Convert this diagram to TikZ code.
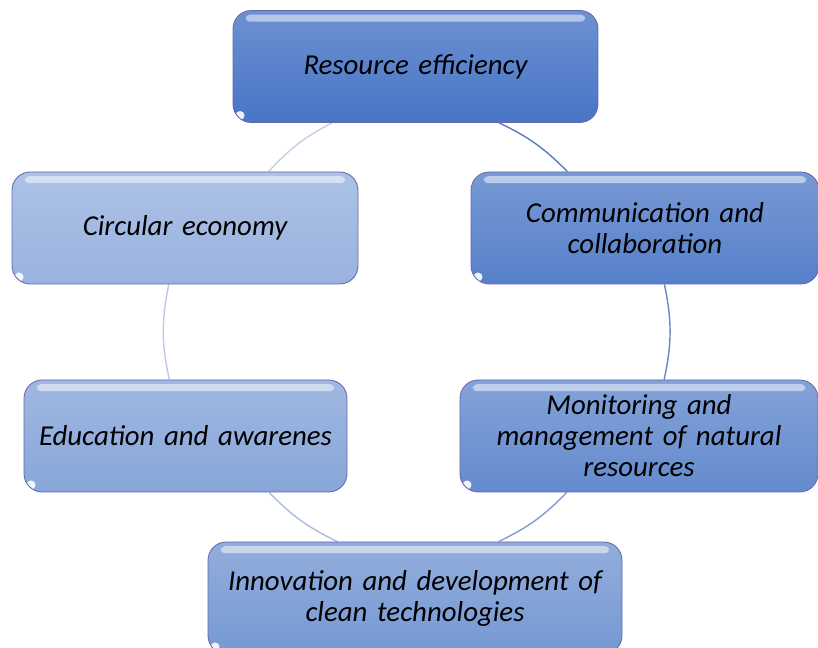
\documentclass[tikz,border=0pt]{standalone}
\usepackage{fontspec}
\setmainfont{Carlito}
\usepackage{tikz}
\usetikzlibrary{backgrounds}
\definecolor{blueA}{RGB}{72,117,198}
\definecolor{blueB}{RGB}{86,128,202}
\definecolor{blueC}{RGB}{100,139,206}
\definecolor{blueD}{RGB}{118,153,211}
\definecolor{blueE}{RGB}{136,166,217}
\definecolor{blueF}{RGB}{153,178,223}
\tikzstyle{block} = [rectangle, rounded corners=13pt, draw=blue!45!black!60, line width=0.6pt,
  minimum height=112*0.025cm, align=center, font=\fontsize{20.5}{22}\selectfont\itshape,
  path picture={
    \fill[white, opacity=0.5, rounded corners=3pt]
      ([shift={(9pt,-3pt)}]path picture bounding box.north west) rectangle
      ([shift={(-9pt,-8pt)}]path picture bounding box.north east);
    \fill[white, opacity=0.9] ([shift={(5pt,5pt)}]path picture bounding box.south west) circle (3.2pt);
  }]
\tikzstyle{ring} = [line width=1pt]
\begin{document}
\begin{tikzpicture}[x=0.025cm, y=0.025cm]
		\useasboundingbox (0,0) rectangle (818,-648);
		% Place nodes
		\node [block, top color=blueA!80!white, bottom color=blueA, minimum width=365*0.025cm, text width=340*0.025cm] (efficiency) at (415.5,-66.5) {Resource efficiency};
		\node [block, top color=blueB!80!white, bottom color=blueB, minimum width=348*0.025cm, text width=320*0.025cm] (collab) at (645,-228) {Communication and\\collaboration};
		\node [block, top color=blueC!80!white, bottom color=blueC, minimum width=358*0.025cm, text width=335*0.025cm] (monitor) at (639,-436) {Monitoring and\\management of natural\\resources};
		\node [block, top color=blueD!80!white, bottom color=blueD, minimum width=414*0.025cm, text width=400*0.025cm] (innovation) at (415,-598) {Innovation and development of\\clean technologies};
		\node [block, top color=blueE!80!white, bottom color=blueE, minimum width=323*0.025cm, text width=310*0.025cm] (education) at (185.5,-436) {Education and awarenes};
		\node [block, top color=blueF!80!white, bottom color=blueF, minimum width=346*0.025cm, text width=320*0.025cm] (circular) at (185,-228) {Circular economy};
		% Draw edges
		\begin{scope}[on background layer]
		\path [ring, draw={rgb,255:red,92;green,122;blue,190}] (efficiency.-34.4) to[bend left=10] (collab.144.4);
		\path [ring, draw={rgb,255:red,105;green,135;blue,198}] (collab.-71.7) to[bend left=12] (monitor.66.8);
		\path [ring, draw={rgb,255:red,130;green,155;blue,208}] (monitor.-142.9) to[bend left=10] (innovation.34.8);
		\path [ring, draw={rgb,255:red,172;green,188;blue,224}] (innovation.144.5) to[bend left=10] (education.-34.5);
		\path [ring, draw={rgb,255:red,188;green,200;blue,230}] (education.106.4) to[bend left=12] (circular.-106);
		\path [ring, draw={rgb,255:red,196;green,206;blue,233}] (circular.34.8) to[bend left=10] (efficiency.214.7);
		\end{scope}
	\end{tikzpicture}
\end{document}
